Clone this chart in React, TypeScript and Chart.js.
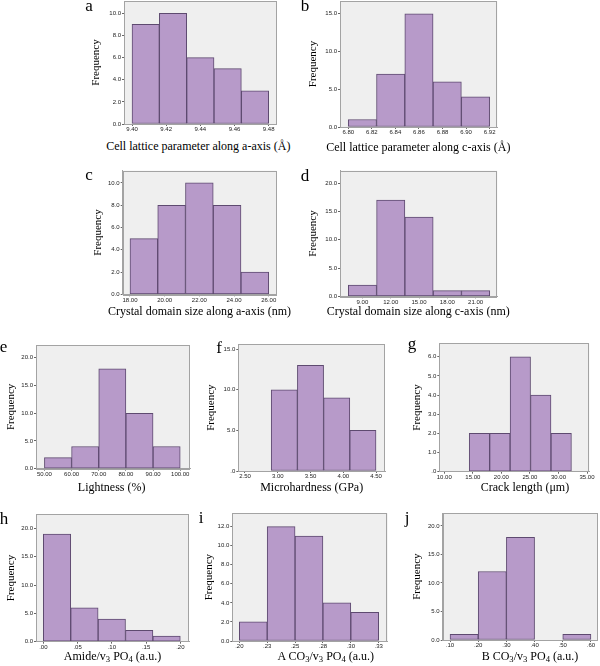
import React, { useEffect, useRef } from "react";
import { Chart, registerables } from "chart.js";
Chart.register(...registerables);

// ---------- data ----------
// a: cell lattice parameter along a-axis
const aBins = [9.408, 9.424, 9.44, 9.456, 9.472];
const aFreq = [9, 10, 6, 5, 3];
const aXTicks = [9.4, 9.42, 9.44, 9.46, 9.48];
const aXLabels = ["9.40", "9.42", "9.44", "9.46", "9.48"];
const aYTicks = [0, 2, 4, 6, 8, 10];
const aYLabels = ["0.0", "2.0", "4.0", "6.0", "8.0", "10.0"];

// b: cell lattice parameter along c-axis
const bBins = [6.812, 6.836, 6.86, 6.884, 6.908];
const bFreq = [1, 7, 15, 6, 4];
const bXTicks = [6.8, 6.82, 6.84, 6.86, 6.88, 6.9, 6.92];
const bXLabels = ["6.80", "6.82", "6.84", "6.86", "6.88", "6.90", "6.92"];
const bYTicks = [0, 5, 10, 15];
const bYLabels = ["0.0", "5.0", "10.0", "15.0"];

// c: crystal domain size along a-axis
const cBins = [18.8, 20.4, 22.0, 23.6, 25.2];
const cFreq = [5, 8, 10, 8, 2];
const cXTicks = [18, 20, 22, 24, 26];
const cXLabels = ["18.00", "20.00", "22.00", "24.00", "26.00"];
const cYTicks = [0, 2, 4, 6, 8, 10];
const cYLabels = ["0.0", "2.0", "4.0", "6.0", "8.0", "10.0"];

// d: crystal domain size along c-axis
const dBins = [9, 12, 15, 18, 21];
const dFreq = [2, 17, 14, 1, 1];
const dXTicks = [9, 12, 15, 18, 21];
const dXLabels = ["9.00", "12.00", "15.00", "18.00", "21.00"];
const dYTicks = [0, 5, 10, 15, 20];
const dYLabels = ["0.0", "5.0", "10.0", "15.0", "20.0"];

// e: lightness
const eBins = [55, 65, 75, 85, 95];
const eFreq = [2, 4, 18, 10, 4];
const eXTicks = [50, 60, 70, 80, 90, 100];
const eXLabels = ["50.00", "60.00", "70.00", "80.00", "90.00", "100.00"];
const eYTicks = [0, 5, 10, 15, 20];
const eYLabels = ["0.0", "5.0", "10.0", "15.0", "20.0"];

// f: microhardness
const fBins = [3.1, 3.5, 3.9, 4.3];
const fFreq = [10, 13, 9, 5];
const fXTicks = [2.5, 3.0, 3.5, 4.0, 4.5];
const fXLabels = ["2.50", "3.00", "3.50", "4.00", "4.50"];
const fYTicks = [0, 5, 10, 15];
const fYLabels = [".0", "5.0", "10.0", "15.0"];

// g: crack length
const gBins = [16.16, 19.74, 23.32, 26.9, 30.48];
const gFreq = [2, 2, 6, 4, 2];
const gXTicks = [10, 15, 20, 25, 30, 35];
const gXLabels = ["10.00", "15.00", "20.00", "25.00", "30.00", "35.00"];
const gYTicks = [0, 1, 2, 3, 4, 5, 6];
const gYLabels = [".0", "1.0", "2.0", "3.0", "4.0", "5.0", "6.0"];

// h: amide / v3 PO4
const hBins = [0.02, 0.06, 0.1, 0.14, 0.18];
const hFreq = [19, 6, 4, 2, 1];
const hXTicks = [0, 0.05, 0.1, 0.15, 0.2];
const hXLabels = [".00", ".05", ".10", ".15", ".20"];
const hYTicks = [0, 5, 10, 15, 20];
const hYLabels = ["0.0", "5.0", "10.0", "15.0", "20.0"];

// i: A CO3 / v3 PO4
const iBins = [0.2125, 0.2375, 0.2625, 0.2875, 0.3125];
const iFreq = [2, 12, 11, 4, 3];
const iXTicks = [0.2, 0.225, 0.25, 0.275, 0.3, 0.325];
const iXLabels = [".20", ".23", ".25", ".28", ".30", ".33"];
const iYTicks = [0, 2, 4, 6, 8, 10, 12];
const iYLabels = ["0.0", "2.0", "4.0", "6.0", "8.0", "10.0", "12.0"];

// j: B CO3 / v3 PO4
const jBins = [0.15, 0.25, 0.35, 0.45, 0.55];
const jFreq = [1, 12, 18, 0, 1];
const jXTicks = [0.1, 0.2, 0.3, 0.4, 0.5, 0.6];
const jXLabels = [".10", ".20", ".30", ".40", ".50", ".60"];
const jYTicks = [0, 5, 10, 15, 20];
const jYLabels = ["0.0", "5.0", "10.0", "15.0", "20.0"];

// ---------- styles ----------
const SERIF = "'Liberation Serif', 'Times New Roman', Times, serif";
const SANS = "'Liberation Sans', Arial, sans-serif";
const BAR_FILL = "#b79ac9";
const BAR_EDGE = "#5e4a70";
const PLOT_BG = "#efefef";
const BOX = "#a3a3a3";
const TICK_TEXT = "#222222";

const sub = (t: string) => (
  <sub style={{ fontSize: "0.72em", verticalAlign: "-0.25em", lineHeight: 0 }}>{t}</sub>
);

type Panel = {
  letter: string;
  bins: number[];
  freq: number[];
  xTicks: number[];
  xLabels: string[];
  yTicks: number[];
  yLabels: string[];
  xMin: number;
  xMax: number;
  yMax: number;
  box: number[]; // l, t, r, b (page px)
  freqX: number;
  title: any;
  titleX: number;
  titleBase: number;
  letterX: number;
  letterBase: number;
};

const panels: Panel[] = [
  {
    letter: "a", bins: aBins, freq: aFreq, xTicks: aXTicks, xLabels: aXLabels, yTicks: aYTicks, yLabels: aYLabels,
    xMin: 9.3953, xMax: 9.4847, yMax: 11.12, box: [124, 1, 276.7, 124], freqX: 96.7,
    title: "Cell lattice parameter along a-axis (Å)", titleX: 198.3, titleBase: 150, letterX: 89, letterBase: 11,
  },
  {
    letter: "b", bins: bBins, freq: bFreq, xTicks: bXTicks, xLabels: bXLabels, yTicks: bYTicks, yLabels: bYLabels,
    xMin: 6.793, xMax: 6.9265, yMax: 16.7, box: [340, 1, 497.3, 127], freqX: 313.3,
    title: "Cell lattice parameter along c-axis (Å)", titleX: 418.3, titleBase: 150.5, letterX: 305, letterBase: 11.5,
  },
  {
    letter: "c", bins: cBins, freq: cFreq, xTicks: cXTicks, xLabels: cXLabels, yTicks: cYTicks, yLabels: cYLabels,
    xMin: 17.58, xMax: 26.46, yMax: 11.1, box: [122.7, 170.7, 276.7, 294.3], freqX: 99,
    title: "Crystal domain size along a-axis (nm)", titleX: 199.5, titleBase: 315, letterX: 89, letterBase: 180,
  },
  {
    letter: "d", bins: dBins, freq: dFreq, xTicks: dXTicks, xLabels: dXLabels, yTicks: dYTicks, yLabels: dYLabels,
    xMin: 6.62, xMax: 23.3, yMax: 22.2, box: [340, 170.7, 497.3, 296.3], freqX: 313.3,
    title: "Crystal domain size along c-axis (nm)", titleX: 418.3, titleBase: 315, letterX: 305, letterBase: 181,
  },
  {
    letter: "e", bins: eBins, freq: eFreq, xTicks: eXTicks, xLabels: eXLabels, yTicks: eYTicks, yLabels: eYLabels,
    xMin: 46.9, xMax: 103.6, yMax: 22.3, box: [36, 345, 190, 468.7], freqX: 11.7,
    title: "Lightness (%)", titleX: 111.7, titleBase: 491, letterX: 3.5, letterBase: 352,
  },
  {
    letter: "f", bins: fBins, freq: fFreq, xTicks: fXTicks, xLabels: fXLabels, yTicks: fYTicks, yLabels: fYLabels,
    xMin: 2.398, xMax: 4.637, yMax: 15.6, box: [238.3, 344.3, 385, 471], freqX: 211.7,
    title: "Microhardness (GPa)", titleX: 311.7, titleBase: 491, letterX: 219, letterBase: 353,
  },
  {
    letter: "g", bins: gBins, freq: gFreq, xTicks: gXTicks, xLabels: gXLabels, yTicks: gYTicks, yLabels: gYLabels,
    xMin: 9.13, xMax: 35.4, yMax: 6.7, box: [439.3, 343.3, 589.3, 471.7], freqX: 417.7,
    title: "Crack length (μm)", titleX: 525, titleBase: 491, letterX: 412, letterBase: 349,
  },
  {
    letter: "h", bins: hBins, freq: hFreq, xTicks: hXTicks, xLabels: hXLabels, yTicks: hYTicks, yLabels: hYLabels,
    xMin: -0.0107, xMax: 0.2127, yMax: 22.5, box: [36, 514.3, 189, 641.7], freqX: 11.7,
    title: <>Amide/v{sub("3")} PO{sub("4")} (a.u.)</>, titleX: 112.5, titleBase: 660, letterX: 4, letterBase: 524,
  },
  {
    letter: "i", bins: iBins, freq: iFreq, xTicks: iXTicks, xLabels: iXLabels, yTicks: iYTicks, yLabels: iYLabels,
    xMin: 0.1937, xMax: 0.3331, yMax: 13.4, box: [232.3, 513.3, 387.7, 641], freqX: 210,
    title: <>A CO{sub("3")}/v{sub("3")} PO{sub("4")} (a.u.)</>, titleX: 325.8, titleBase: 660, letterX: 201, letterBase: 523,
  },
  {
    letter: "j", bins: jBins, freq: jFreq, xTicks: jXTicks, xLabels: jXLabels, yTicks: jYTicks, yLabels: jYLabels,
    xMin: 0.074, xMax: 0.624, yMax: 22.2, box: [442.7, 513.3, 597.7, 640], freqX: 417.7,
    title: <>B CO{sub("3")}/v{sub("3")} PO{sub("4")} (a.u.)</>, titleX: 530, titleBase: 660, letterX: 407, letterBase: 523,
  },
];

const plotBoxPlugin = {
  id: "plotBox",
  beforeDraw(chart: any) {
    const { ctx, chartArea: a } = chart;
    ctx.save();
    ctx.fillStyle = PLOT_BG;
    ctx.fillRect(a.left, a.top, a.right - a.left, a.bottom - a.top);
    ctx.restore();
  },
  afterDraw(chart: any) {
    const { ctx, chartArea: a } = chart;
    ctx.save();
    ctx.strokeStyle = BOX;
    ctx.lineWidth = 1;
    ctx.strokeRect(Math.round(a.left) + 0.5, Math.round(a.top) + 0.5, Math.round(a.right - a.left) - 1, Math.round(a.bottom - a.top));
    ctx.restore();
  },
};

function HistPanel({ p }: { p: Panel }) {
  const ref = useRef<HTMLCanvasElement>(null);
  const [l, t, r, b] = p.box;
  const cl = Math.round(p.freqX - 6.6);
  const ct = Math.floor(t - 6);
  const cr = Math.ceil(r + 12);
  const cb = Math.ceil(b + 14);
  const cw = cr - cl;
  const ch = cb - ct;

  useEffect(() => {
    const tickFont = { family: SANS, size: 6 };
    const chart = new Chart(ref.current as HTMLCanvasElement, {
      type: "bar",
      data: {
        datasets: [
          {
            data: p.bins.map((x, i) => ({ x, y: p.freq[i] })),
            backgroundColor: BAR_FILL,
            borderColor: BAR_EDGE,
            borderWidth: 1,
            borderSkipped: false,
            barThickness: "flex",
            barPercentage: 1,
            categoryPercentage: 1,
          } as any,
        ],
      },
      options: {
        animation: false,
        responsive: false,
        maintainAspectRatio: false,
        layout: { padding: { left: 0, top: t - ct, right: cr - r, bottom: 0 } },
        plugins: { legend: { display: false }, tooltip: { enabled: false } },
        scales: {
          x: {
            type: "linear",
            min: p.xMin,
            max: p.xMax,
            offset: false,
            afterFit: (s: any) => { s.height = cb - b; },
            afterBuildTicks: (s: any) => { s.ticks = p.xTicks.map((v) => ({ value: v })); },
            ticks: {
              callback: (_v: any, i: number) => p.xLabels[i],
              autoSkip: false,
              maxRotation: 0,
              minRotation: 0,
              font: tickFont,
              color: TICK_TEXT,
              padding: 0,
            },
            grid: { offset: false, drawOnChartArea: false, drawTicks: true, tickLength: 2, color: "#666" },
            border: { display: true, color: BOX },
          },
          y: {
            type: "linear",
            min: 0,
            max: p.yMax,
            afterFit: (s: any) => { s.width = l - cl; },
            afterBuildTicks: (s: any) => { s.ticks = p.yTicks.map((v) => ({ value: v })); },
            ticks: {
              callback: (_v: any, i: number) => p.yLabels[i],
              autoSkip: false,
              font: tickFont,
              color: TICK_TEXT,
              padding: 1,
            },
            grid: { drawOnChartArea: false, drawTicks: true, tickLength: 2, color: "#666" },
            border: { display: true, color: BOX },
            title: {
              display: true,
              text: "Frequency",
              font: { family: SERIF, size: 11, lineHeight: 1.2 },
              color: "#000",
              padding: 0,
            },
          },
        },
      } as any,
      plugins: [plotBoxPlugin],
    });
    return () => chart.destroy();
  }, []);

  return (
    <canvas
      ref={ref}
      width={cw}
      height={ch}
      style={{ position: "absolute", left: cl, top: ct, width: cw, height: ch }}
    />
  );
}

export default function App() {
  return (
    <div
      style={{
        position: "absolute",
        left: 0,
        top: 0,
        width: 600,
        height: 666,
        overflow: "hidden",
        background: "#ffffff",
      }}
    >
      {panels.map((p) => (
        <HistPanel key={p.letter} p={p} />
      ))}
      {panels.map((p) => (
        <div
          key={"t" + p.letter}
          style={{
            position: "absolute",
            left: p.titleX,
            top: p.titleBase - 10,
            transform: "translateX(-50%)",
            whiteSpace: "nowrap",
            fontFamily: SERIF,
            fontSize: 12,
            lineHeight: "12px",
            color: "#000",
          }}
        >
          {p.title}
        </div>
      ))}
      {panels.map((p) => (
        <div
          key={"l" + p.letter}
          style={{
            position: "absolute",
            left: p.letterX,
            top: p.letterBase - 14.2,
            transform: "translateX(-50%)",
            fontFamily: SERIF,
            fontSize: 17,
            lineHeight: "17px",
            color: "#000",
          }}
        >
          {p.letter}
        </div>
      ))}
    </div>
  );
}
